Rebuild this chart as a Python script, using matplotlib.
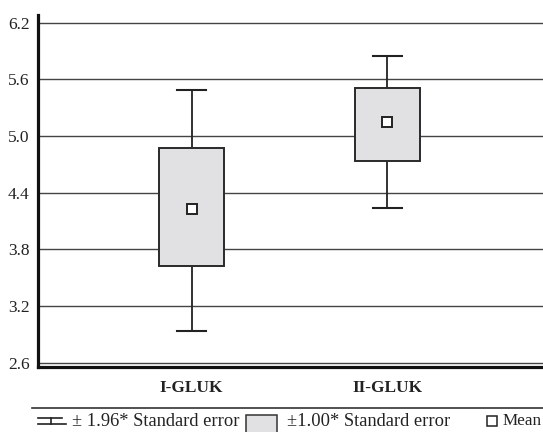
import matplotlib
matplotlib.use('Agg')
import matplotlib.pyplot as plt
from matplotlib.lines import Line2D
from matplotlib.patches import Rectangle

plt.rcParams['font.family'] = ['Liberation Serif', 'DejaVu Serif']

# Wartości dla obu grup
grupy = ['I-GLUK', 'II-GLUK']
srednie = [4.23, 5.15]
se_dol = [3.625, 4.733]      # średnia - 1.00*SE
se_gora = [4.877, 5.509]     # średnia + 1.00*SE
ci_dol = [2.934, 4.239]      # średnia - 1.96*SE
ci_gora = [5.485, 5.848]     # średnia + 1.96*SE
y_ticks = [2.6, 3.2, 3.8, 4.4, 5.0, 5.6, 6.2]

W, H = 543, 432
fig = plt.figure(figsize=(W / 100, H / 100), dpi=100)
ax = fig.add_axes([38 / W, 65 / H, 1 - 38 / W, (367 - 15) / H])

szer_pudla = 0.33
szer_wasa = 0.145
kolor = '#222222'

for i in range(len(grupy)):
    ax.plot([i, i], [ci_dol[i], ci_gora[i]], color=kolor, lw=1.3, zorder=2)
    for y in (ci_dol[i], ci_gora[i]):
        ax.plot([i - szer_wasa / 2, i + szer_wasa / 2], [y, y], color=kolor, lw=1.5, zorder=2)
    ax.add_patch(Rectangle((i - szer_pudla / 2, se_dol[i]), szer_pudla,
                           se_gora[i] - se_dol[i], facecolor='#e1e1e3',
                           edgecolor='#2a2a2a', lw=1.4, zorder=3))
    ax.plot(i, srednie[i], marker='s', ms=7.5, mfc='white', mec=kolor, mew=1.4, zorder=4)

ax.set_xlim(-0.785, 1.795)
ax.set_ylim(2.554, 6.282)
ax.set_yticks(y_ticks)
ax.set_yticklabels([f'{v:.1f}' for v in y_ticks])
ax.set_xticks(range(len(grupy)))
ax.set_xticklabels(grupy, fontweight='bold')
ax.tick_params(axis='y', length=0, pad=6, labelsize=12.5, labelcolor='#222')
ax.tick_params(axis='x', length=0, pad=9, labelsize=12.5, labelcolor='#222')
ax.grid(axis='y', color='#444', lw=1.0, zorder=0)
ax.set_axisbelow(True)
for s in ('top', 'right'):
    ax.spines[s].set_visible(False)
for s in ('left', 'bottom'):
    ax.spines[s].set_linewidth(2.3)
    ax.spines[s].set_color('#111')

# Legenda pod wykresem
def px(x, y):
    return x / W, 1 - y / H

fig.add_artist(Line2D([32 / W, 1], [1 - 408 / H] * 2, color='#333', lw=1.2))
fig.add_artist(Line2D([38 / W, 62 / W], [1 - 418 / H] * 2, color=kolor, lw=1.2))
fig.add_artist(Line2D([38 / W, 66 / W], [1 - 424 / H] * 2, color=kolor, lw=1.2))
fig.add_artist(Line2D([51 / W, 51 / W], [1 - 418 / H, 1 - 424 / H], color=kolor, lw=1.2))
fig.text(*px(72, 421), '± 1.96* Standard error', fontsize=13.3, va='center', color='#222')
fig.add_artist(Rectangle(px(246, 433), 31 / W, 18 / H, facecolor='#e1e1e3',
                         edgecolor='#333', lw=1.1, transform=fig.transFigure))
fig.text(*px(287, 421), '±1.00* Standard error', fontsize=13.3, va='center', color='#222')
fig.add_artist(Line2D([492 / W], [1 - 421 / H], marker='s', ms=7, mfc='white',
                      mec=kolor, mew=1.1, ls='none'))
fig.text(*px(503, 421), 'Mean', fontsize=12.3, va='center', color='#222')

fig.savefig('out.png', dpi=100)
